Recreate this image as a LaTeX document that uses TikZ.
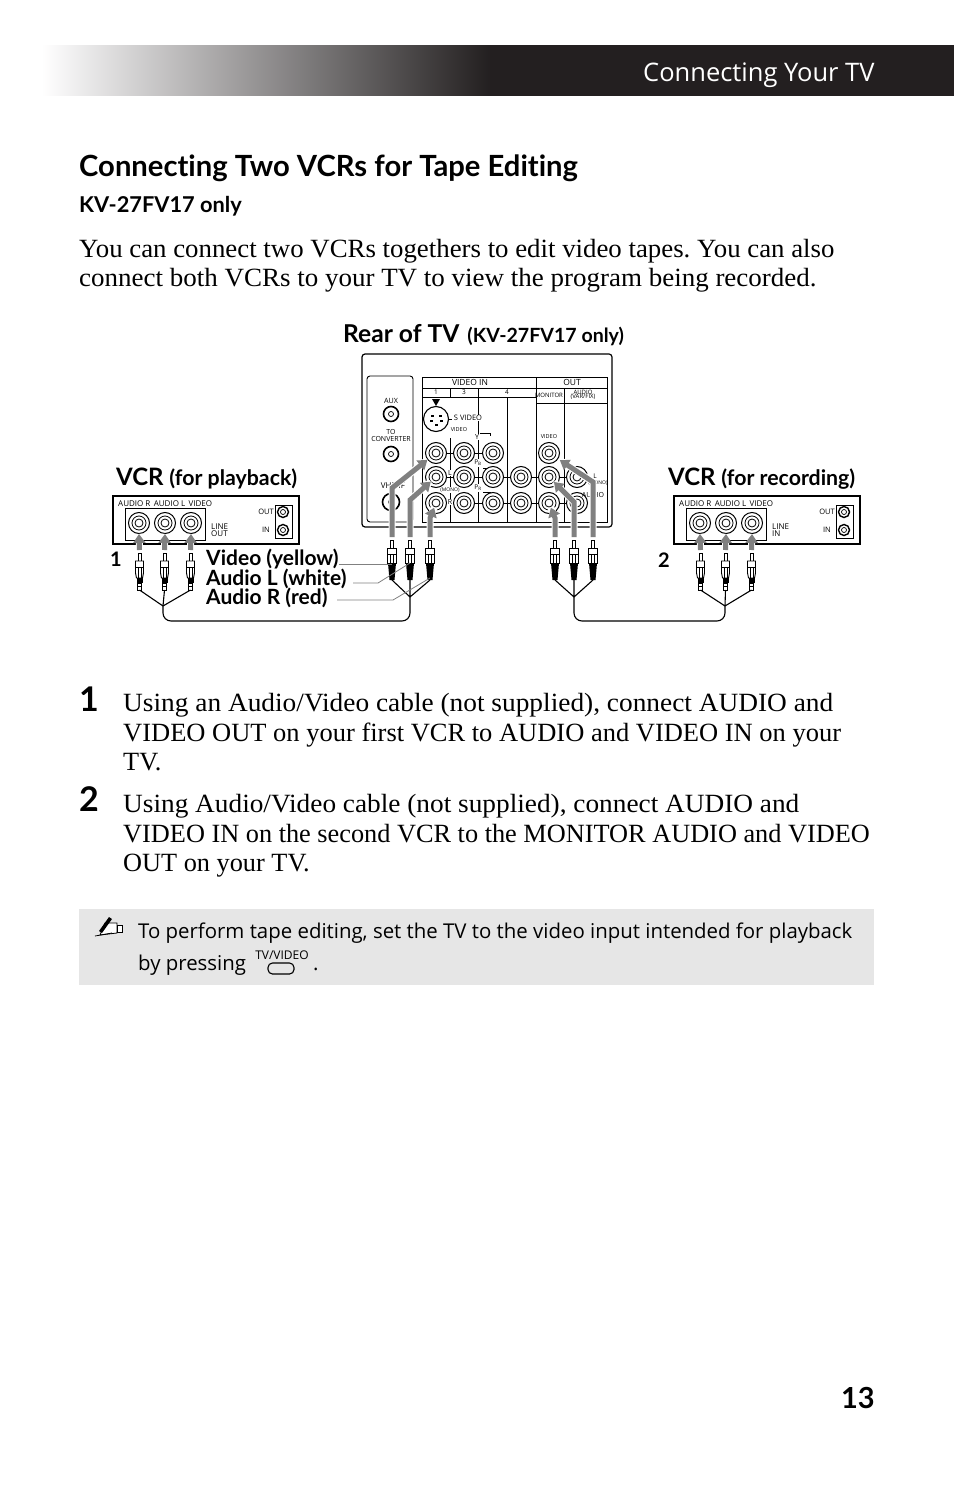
\documentclass[tikz,border=0pt]{standalone}
\usepackage{fontspec}
\usetikzlibrary{arrows.meta}
\setmainfont{Liberation Serif}
\setsansfont{Open Sans}
\newfontfamily\headfont[Ligatures=NoCommon]{Lato}
\definecolor{darkbar}{HTML}{231F20}
\definecolor{notegray}{HTML}{E6E6E6}
\definecolor{sigray}{HTML}{808080}
\newcommand{\fsz}[1]{\fontsize{#1}{#1}\selectfont}
\newcommand{\fitline}[2]{\scalebox{#1}[1]{#2}}
\frenchspacing
\tikzset{
  txt/.style={anchor=base west,inner sep=0pt},
  bodyline/.style={txt,font=\fsz{26.3}},
  stepnum/.style={txt,font=\headfont\bfseries\fsz{34}},
  cableb/.style={txt,font=\headfont\bfseries\fsz{21}},
  tiny/.style={inner sep=0pt,font=\sffamily\fsz{6.5},align=center},
  tinyw/.style={tiny,fill=white,inner sep=0.6pt},
  jack/.style={circle,draw,line width=1pt,minimum size=21pt,inner sep=0pt,
    path picture={\draw[line width=0.8pt] (path picture bounding box.center) circle (7pt);
      \draw[line width=0.8pt] (path picture bounding box.center) circle (4pt);}},
  rfjack/.style={circle,draw,line width=1pt,minimum size=13pt,inner sep=0pt,
    path picture={\draw[line width=0.7pt] (path picture bounding box.center) circle (2.5pt);}},
  panel/.style={line width=0.9pt},
  wire/.style={line width=1.1pt},
  leader/.style={line width=0.8pt,draw=sigray},
  sigarrow/.style={draw=sigray,line width=5pt,-{Triangle[length=9pt,width=12pt]},
    preaction={draw=white,line width=7pt,-}},
  plugup/.pic={
    \draw[line width=0.8pt,fill=white] (-1.5,0) rectangle (1.5,8);
    \draw[line width=0.9pt,fill=white] (-4,8) -- (4,8) -- (4,20) -- (3,25) -- (-3,25) -- (-4,20) -- cycle;
    \draw[line width=0.6pt] (-4,14) -- (4,14) (-1.5,14) -- (-1.5,25) (1.5,14) -- (1.5,25);
    \fill (-3,25) rectangle (3,30);
    \draw[line width=0.8pt,fill=white] (-2,30) rectangle (2,37);
    \draw[line width=0.6pt] (-2,33.5) -- (2,33.5);
    \coordinate (-wire) at (0,37);},
  plugtv/.pic={
    \draw[line width=0.8pt,fill=white] (-1.5,0) rectangle (1.5,8);
    \draw[line width=0.9pt,fill=white] (-4.5,8) -- (4.5,8) -- (4.5,23) -- (-4.5,23) -- cycle;
    \draw[line width=0.6pt] (-4.5,14) -- (4.5,14) (-1.5,14) -- (-1.5,23) (1.5,14) -- (1.5,23);
    \fill (-4,23) -- (4,23) -- (2.5,40) -- (-2.5,40) -- cycle;
    \coordinate (-wire) at (0,40);},
}
\begin{document}
\begin{tikzpicture}[x=1pt,y=-1pt]
\useasboundingbox (0,0) rectangle (954,1487);

\begin{scope}
\clip (42,45.8) rectangle (490,96);
\shade[left color=white,right color=darkbar] (42,40) rectangle (490,100);
\end{scope}
\fill[darkbar] (489.5,45.3) rectangle (954,96);
\node[txt,text=white,font=\sffamily\fsz{25.5}] (header) at (643,81.5) {Connecting Your TV};

\node[txt,font=\headfont\bfseries\fsz{29.2}] (title) at (79,177) {Connecting Two VCRs for Tape Editing};
\node[txt,font=\headfont\bfseries\fsz{21.8}] (model) at (79,213) {KV-27FV17 only};
\node[bodyline] (introa) at (79,258) {\fitline{1.02}{You can connect two VCRs togethers to edit video tapes. You can also}};
\node[bodyline] (introb) at (79,287) {\fitline{1.026}{connect both VCRs to your TV to view the program being recorded.}};

\node[txt,font=\headfont\bfseries\fsz{24.6}] (reartv) at (343,342) {Rear of TV\hspace{8pt}\fsz{19.6}(KV-27FV17 only)};
\node[txt,font=\headfont\bfseries\fsz{24}] (vcrplay) at (116,485) {VCR \fsz{21.3}(for playback)};
\node[txt,font=\headfont\bfseries\fsz{24}] (vcrrec) at (668,485) {VCR \fsz{21.3}(for recording)};

% rear of the set
\draw[panel,line width=1.2pt,rounded corners=3pt] (362,354) rectangle (612,527);
\draw[panel,rounded corners=3pt] (413,522) -- (413,376) -- (367,376) -- (367,522) -- cycle;
\draw[panel] (422,377) rectangle (607,522);
\draw[panel] (422,388) -- (607,388) (422,397) -- (536,397) (536,403) -- (607,403);
\draw[panel] (536,377) -- (536,522) (450,388) -- (450,397) (478,388) -- (478,522)
  (450,438) -- (450,522) (507,397) -- (507,522) (564,388) -- (564,522);
\draw[panel] (480,433) -- (490,433) -- (490,436) (483,468) -- (490,468) -- (490,471)
  (483,492) -- (490,492) -- (490,495);
\foreach \y in {453,477,503} {
  \draw[panel] (445,\y) -- (455,\y) (473,\y) -- (484,\y);
}
\foreach \y in {477,503} {
  \draw[panel] (502,\y) -- (512,\y) (530,\y) -- (540,\y) (559,\y) -- (568,\y);
}
\foreach \x/\n in {436/a,464/b,493/c} {
  \node[jack,fill=white] (jt\n) at (\x,453) {};
}
\node[jack,fill=white] (jtm) at (549,453) {};
\foreach \x/\n in {436/a,464/b,493/c,521/d,549/e,577/f} {
  \node[jack,fill=white] (jl\n) at (\x,477) {};
  \node[jack,fill=white] (jr\n) at (\x,503) {};
}
\node[rfjack,line width=1.6pt,minimum size=15pt] (aux) at (391,414) {};
\node[rfjack,line width=1.6pt,minimum size=15pt] (conv) at (391,454) {};
\node[rfjack,line width=1.6pt,minimum size=17pt] (vhf) at (391,502) {};
\node[circle,draw,line width=1.1pt,minimum size=25pt,inner sep=0pt] (svideo) at (436,419) {};
\foreach \dx/\dy in {-4/-3,4/-3,-5/2,5/2,0/6} {
  \fill[black] (436+\dx-1.5,419+\dy-1) rectangle (436+\dx+1.5,419+\dy+1);
}
\fill (432,399) -- (440,399) -- (436,406) -- cycle;
\draw[panel] (svideo.east) -- (452,419);

\node[tiny,font=\sffamily\fsz{8.5}] (lvin) at (470,382) {VIDEO IN};
\node[tiny,font=\sffamily\fsz{8.5}] (lout) at (572,382) {OUT};
\node[tiny] (lone) at (436,392) {1};
\node[tiny] (lthree) at (464,392) {3};
\node[tiny] (lfour) at (507,392) {4};
\node[tiny,font=\sffamily\fsz{6}] (lmon) at (549,395) {MONITOR};
\node[tiny,font=\sffamily\fsz{6}] (laud) at (583,395) {AUDIO\\[-1.5pt](VAR/FIX)};
\node[tiny,font=\sffamily\fsz{7.2}] (laux) at (391,401) {AUX};
\node[tiny,font=\sffamily\fsz{7}] (lconv) at (391,435) {TO\\[0pt]CONVERTER};
\node[tiny,font=\sffamily\fsz{8}] (lvhf) at (393,486) {VHF/IF};
\node[tinyw,font=\sffamily\fsz{7.5}] (lsv) at (468,418) {S VIDEO};
\node[tiny,font=\sffamily\fsz{5.5}] (lvs) at (459,430) {VIDEO};
\node[tiny,font=\sffamily\fsz{5.5}] (lvm) at (549,437) {VIDEO};
\node[tinyw,font=\sffamily\fsz{7}] (ly) at (477,437) {Y};
\node[tinyw,font=\sffamily\fsz{6.5}] (lpb) at (478,463) {P\textsubscript{B}};
\node[tinyw,font=\sffamily\fsz{6.5}] (lpr) at (478,488) {P\textsubscript{R}};
\node[tinyw,font=\sffamily\fsz{7}] (ll) at (450,473) {L};
\node[tinyw,font=\sffamily\fsz{5}] (lmono) at (450,490) {(MONO)};
\node[tinyw,font=\sffamily\fsz{7}] (lr) at (450,502) {R};
\node[tiny,font=\sffamily\fsz{6.5}] (ll2) at (595,476) {L};
\node[tiny,font=\sffamily\fsz{5}] (lmono2) at (598,483) {(MONO)};
\node[tiny,font=\sffamily\fsz{7}] (laud2) at (593,495) {AUDIO};
\node[tiny,font=\sffamily\fsz{7}] (lr2) at (593,506) {R};

% the two recorders
\foreach \dx/\n/\lineio/\inx in {0/p/{LINE\\[-1pt]OUT}/270,561/q/{LINE\\[-1pt]IN}/270} {
  \begin{scope}[xshift=\dx pt]
  \draw[panel,line width=1.1pt] (113,496) rectangle (299,544);
  \draw[panel] (125,540) -- (125,508) -- (205,508) -- (205,540) -- cycle;
  \draw[panel] (275,505) rectangle (292,538);
  \node[tiny,anchor=west,font=\sffamily\fsz{8}] (lab\n) at (118,504) {AUDIO R\, AUDIO L\, VIDEO};
  \node[tiny,anchor=west,align=left,font=\sffamily\fsz{8}] (line\n) at (211,530) {\lineio};
  \node[tiny,anchor=east,font=\sffamily\fsz{7.5}] (out\n) at (274,512) {OUT};
  \node[tiny,anchor=east,font=\sffamily\fsz{7.5}] (in\n) at (\inx,530) {IN};
  \node[rfjack,minimum size=11pt,line width=1.4pt] (rfa\n) at (283,512) {};
  \node[rfjack,minimum size=11pt,line width=1.4pt] (rfb\n) at (283,530) {};
  \node[jack,fill=white] (v\n a) at (139,523) {};
  \node[jack,fill=white] (v\n b) at (165,523) {};
  \node[jack,fill=white] (v\n c) at (191,523) {};
  \pic (pl\n a) at (139.5,553) {plugup};
  \pic (pl\n b) at (164.5,553) {plugup};
  \pic (pl\n c) at (190.5,553) {plugup};
  \draw[sigarrow] (pl\n a-wire |- 0,550) -- (v\n a.south);
  \draw[sigarrow] (pl\n b-wire |- 0,550) -- (v\n b.south);
  \draw[sigarrow] (pl\n c-wire |- 0,550) -- (v\n c.south);
  \end{scope}
}
\node[stepnum,font=\headfont\bfseries\fsz{20}] (numa) at (110,566) {1};
\node[stepnum,font=\headfont\bfseries\fsz{20}] (numb) at (658,567) {2};

% plugs at the set and signal arrows
\pic (pa) at (392,540) {plugtv};
\pic (pb) at (410,540) {plugtv};
\pic (pc) at (430,540) {plugtv};
\pic (pd) at (555,540) {plugtv};
\pic (pe) at (574,540) {plugtv};
\pic (pf) at (593,540) {plugtv};
\draw[sigarrow,shorten >=11pt] (pa-wire |- 0,537) -- (392,488) -- (jta.center);
\draw[sigarrow,shorten >=7pt] (pb-wire |- 0,537) -- (410,500) -- (jla.center);
\draw[sigarrow,shorten >=5pt] (pc-wire |- 0,537) -- (430,518) -- (jra.center);
\draw[sigarrow,shorten >=5pt] (pd-wire |- 0,537) -- (555,518) -- (jre.center);
\draw[sigarrow,shorten >=7pt] (pe-wire |- 0,537) -- (574,502) -- (jle.center);
\draw[sigarrow,shorten >=13pt] (pf-wire |- 0,537) -- (593,482) -- (jtm.center);

% cables
\coordinate (ja) at (163,606);
\coordinate (jb) at (410,597);
\coordinate (jc) at (574,597);
\coordinate (jd) at (725,606);
\draw[wire] (plpa-wire) -- (ja) (plpb-wire) -- (ja) (plpc-wire) -- (ja);
\draw[wire] (pa-wire) -- (jb) (pb-wire) -- (jb) (pc-wire) -- (jb);
\draw[wire] (pd-wire) -- (jc) (pe-wire) -- (jc) (pf-wire) -- (jc);
\draw[wire] (plqa-wire) -- (jd) (plqb-wire) -- (jd) (plqc-wire) -- (jd);
\draw[wire,rounded corners=8pt] (ja) -- (163,621) -- (410,621) -- (jb);
\draw[wire,rounded corners=8pt] (jc) -- (574,621) -- (725,621) -- (jd);

\node[cableb] (cvideo) at (206,565.5) {Video (yellow)};
\node[cableb] (caudl) at (206,585) {Audio L (white)};
\node[cableb] (caudr) at (206,604) {Audio R (red)};
\draw[leader] (cvideo.east |- 0,564) -- (pa-wire |- 0,564);
\draw[leader] (353,583) -- (378,583) -- (pb-wire |- 0,563);
\draw[leader] (337,600) -- (393,600) -- (pc-wire |- 0,578);

\node[stepnum] (stepa) at (79,711) {1};
\node[bodyline] (sa) at (123,711) {\fitline{1.04}{Using an Audio/Video cable (not supplied), connect AUDIO and}};
\node[bodyline] (sb) at (123,741) {\fitline{1.007}{VIDEO OUT on your first VCR to AUDIO and VIDEO IN on your}};
\node[bodyline] (sc) at (123,770) {TV.};
\node[stepnum] (stepb) at (79,811) {2};
\node[bodyline] (sd) at (123,812) {\fitline{1.038}{Using Audio/Video cable (not supplied), connect AUDIO and}};
\node[bodyline] (se) at (123,842) {VIDEO IN on the second VCR to the MONITOR AUDIO and VIDEO};
\node[bodyline] (sf) at (123,871) {OUT on your TV.};

% note box
\fill[notegray] (79,909) rectangle (874,985);
\draw[line width=0.8pt,fill=white] (105,923) -- (117,923) -- (117,933) -- (100,935) -- cycle;
\draw[line width=0.8pt,fill=white] (117,925) rectangle (122,932);
\fill (109,917) -- (112,919) -- (102,933) -- (99,931) -- cycle;
\draw[line width=0.8pt] (95,936) -- (112,933);
\node[txt,font=\sffamily\fsz{20.4}] (notea) at (138,938) {To perform tape editing, set the TV to the video input intended for playback};
\node[txt,font=\sffamily\fsz{20.4}] (noteb) at (138,970) {by pressing};
\node[tiny,font=\sffamily\fsz{12}] (tvlabel) at (282,955) {TV/VIDEO};
\draw[line width=1.1pt,rounded corners=4.5pt] (268,963) rectangle (294,974);
\node[txt,font=\sffamily\fsz{20.4}] (noteend) at (313,970) {.};

\node[txt,anchor=base east,font=\headfont\bfseries\fsz{29}] (pagenum) at (875,1408) {13};
\end{tikzpicture}
\end{document}
